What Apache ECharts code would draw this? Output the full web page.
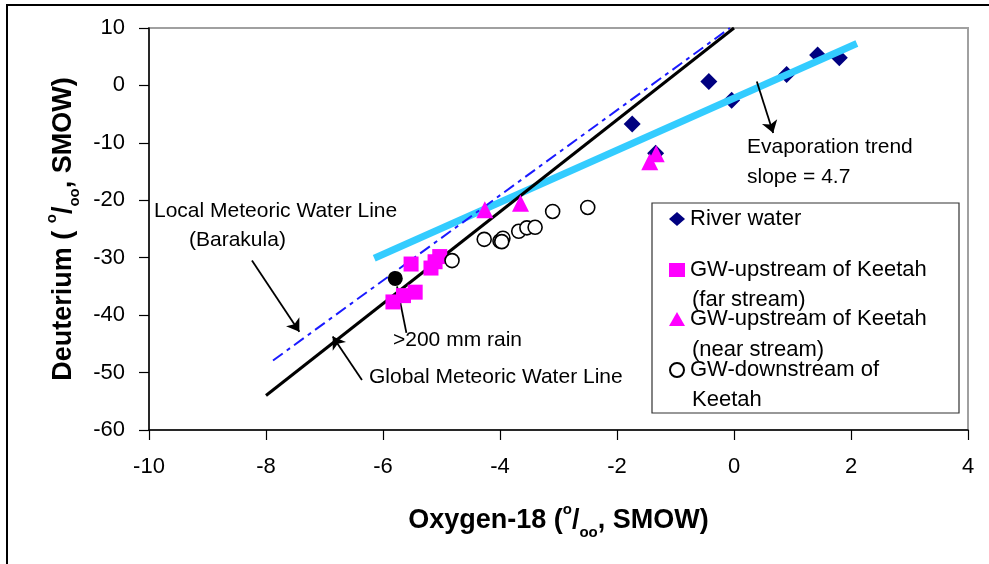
<!DOCTYPE html>
<html>
<head>
<meta charset="utf-8">
<title>Isotopes</title>
<script src="https://cdn.jsdelivr.net/npm/echarts@6/dist/echarts.min.js"></script>
<style>
  html, body { margin: 0; padding: 0; background: #fff; }
  #chart { width: 989px; height: 564px; }
</style>
</head>
<body>
<div id="chart"></div>
<script>
// river water samples
const riverX = [-1.74, -1.34, -0.43, -0.04, 0.9, 1.43, 1.8]
const riverY = [-6.7, -11.8, 0.7, -2.6, 1.9, 5.3, 4.8]
// GW upstream of Keetah, far stream
const farX = [-5.83, -5.65, -5.45, -5.52, -5.18, -5.11, -5.03]
const farY = [-37.7, -36.6, -36.0, -31.1, -31.8, -30.7, -29.8]
// GW upstream of Keetah, near stream
const nearX = [-4.26, -3.65, -1.44, -1.33]
const nearY = [-21.65, -20.5, -13.3, -11.9]
// GW downstream of Keetah
const downX = [-4.82, -4.27, -4.0, -3.95, -3.97, -3.68, -3.54, -3.40, -3.10, -2.50]
const downY = [-30.5, -26.8, -27.1, -26.6, -27.2, -25.4, -24.8, -24.7, -21.95, -21.25]
// >200 mm rain event
const rainX = [-5.79]
const rainY = [-33.6]
// reference lines (end points)
const gmwlX = [-8, 0]
const gmwlY = [-54, 10]
const lmwlX = [-7.88, -0.07]
const lmwlY = [-47.9, 10]
const evapX = [-6.15, 2.1]
const evapY = [-30.1, 7.3]

const xTicks = [-10, -8, -6, -4, -2, 0, 2, 4]
const yTicks = [-60, -50, -40, -30, -20, -10, 0, 10]

const FONT = '"Liberation Sans", Arial, sans-serif'

function zip(xs, ys) {
  return xs.map((x, i) => [x, ys[i]])
}

const chart = echarts.init(document.getElementById('chart'), null, { renderer: 'canvas' })

const titleRich = {
  b: { fontFamily: FONT, fontSize: 27, fontWeight: 'bold', color: '#000', lineHeight: 38 },
  sup: { fontFamily: FONT, fontSize: 15, fontWeight: 'bold', color: '#000', verticalAlign: 'top', lineHeight: 16 },
  sub: { fontFamily: FONT, fontSize: 15, fontWeight: 'bold', color: '#000', verticalAlign: 'bottom', lineHeight: 22 }
}

// one legend per entry so the rows keep the spacing of the original box
function legendRow(name, label, top) {
  return {
    data: [name],
    orient: 'vertical',
    left: 669,
    top: top,
    padding: 0,
    itemWidth: 16,
    itemHeight: 14,
    selectedMode: false,
    formatter: function() { return label },
    textStyle: { fontFamily: FONT, fontSize: 22, color: '#000' }
  }
}

const NAME_RIVER = 'River water'
const NAME_FAR = 'GW-upstream of Keetah (far stream)'
const NAME_NEAR = 'GW-upstream of Keetah (near stream)'
const NAME_DOWN = 'GW-downstream of Keetah'

const arrowLine = {
  silent: true,
  symbol: ['none', 'arrow'],
  symbolSize: 12,
  label: { show: false },
  lineStyle: { color: '#000', width: 1.8, type: 'solid' }
}

const option = {
  animation: false,
  backgroundColor: '#fff',
  grid: {
    left: 149,
    top: 28,
    width: 819,
    height: 402,
    show: true,
    borderColor: '#a0a0a0',
    borderWidth: 2,
    backgroundColor: 'transparent'
  },
  legend: [
    legendRow(NAME_RIVER, 'River water', 208),
    legendRow(NAME_FAR, 'GW-upstream of Keetah', 259),
    legendRow(NAME_NEAR, 'GW-upstream of Keetah', 308),
    legendRow(NAME_DOWN, 'GW-downstream of', 359)
  ],
  xAxis: {
    type: 'value',
    min: xTicks[0],
    max: xTicks[xTicks.length - 1],
    interval: 2,
    name: '{b|Oxygen-18 (}{sup|o}{b|/}{sub|oo}{b|, SMOW)}',
    nameLocation: 'middle',
    nameGap: 72,
    nameTextStyle: { rich: titleRich },
    axisLine: { onZero: false, lineStyle: { color: '#000', width: 1.5 } },
    axisTick: { inside: false, length: 10, lineStyle: { color: '#000', width: 1.2 } },
    axisLabel: { margin: 26, fontFamily: FONT, fontSize: 22, color: '#000' },
    splitLine: { show: false }
  },
  yAxis: {
    type: 'value',
    min: yTicks[0],
    max: yTicks[yTicks.length - 1],
    interval: 10,
    name: '{b|Deuterium ( }{sup|o}{b|/}{sub|oo}{b|, SMOW)}',
    nameLocation: 'middle',
    nameRotate: 90,
    nameGap: 64,
    nameTextStyle: { rich: titleRich },
    axisLine: { onZero: false, lineStyle: { color: '#000', width: 1.5 } },
    axisTick: { inside: false, length: 10, lineStyle: { color: '#000', width: 1.2 } },
    axisLabel: { margin: 24, fontFamily: FONT, fontSize: 22, color: '#000' },
    splitLine: { show: false }
  },
  series: [
    {
      name: NAME_RIVER,
      type: 'scatter',
      symbol: 'diamond',
      symbolSize: 17,
      itemStyle: { color: '#000080', opacity: 1 },
      data: zip(riverX, riverY),
      z: 2
    },
    {
      name: 'Evaporation trend',
      type: 'line',
      showSymbol: false,
      symbol: 'none',
      lineStyle: { color: '#33ccff', width: 7 },
      data: zip(evapX, evapY),
      z: 3,
      markLine: Object.assign({}, arrowLine, {
        data: [
          [{ coord: [0.39, 0.7] }, { coord: [0.67, -8.3] }]
        ]
      })
    },
    {
      name: 'Local Meteoric Water Line',
      type: 'line',
      showSymbol: false,
      symbol: 'none',
      lineStyle: { color: '#1a1aff', width: 2, type: [12, 5, 4, 5] },
      data: zip(lmwlX, lmwlY),
      z: 4,
      markLine: Object.assign({}, arrowLine, {
        data: [
          [{ coord: [-8.24, -30.5] }, { coord: [-7.43, -42.9] }]
        ]
      })
    },
    {
      name: 'Global Meteoric Water Line',
      type: 'line',
      showSymbol: false,
      symbol: 'none',
      lineStyle: { color: '#000', width: 3 },
      data: zip(gmwlX, gmwlY),
      z: 4,
      markLine: Object.assign({}, arrowLine, {
        data: [
          [{ coord: [-6.36, -51.3] }, { coord: [-6.86, -43.7] }],
          [{ coord: [-5.60, -43.1], symbol: 'none' }, { coord: [-5.76, -35.0], symbol: 'none' }]
        ]
      })
    },
    {
      name: NAME_FAR,
      type: 'scatter',
      symbol: 'rect',
      symbolSize: 15,
      itemStyle: { color: '#ff00ff', opacity: 1 },
      data: zip(farX, farY),
      z: 5
    },
    {
      name: NAME_NEAR,
      type: 'scatter',
      symbol: 'triangle',
      symbolSize: 17,
      itemStyle: { color: '#ff00ff', opacity: 1 },
      data: zip(nearX, nearY),
      z: 5
    },
    {
      name: NAME_DOWN,
      type: 'scatter',
      symbol: 'circle',
      symbolSize: 14,
      itemStyle: { color: '#fff', borderColor: '#000', borderWidth: 1.6, opacity: 1 },
      data: zip(downX, downY),
      z: 5
    },
    {
      name: '>200 mm rain',
      type: 'scatter',
      symbol: 'circle',
      symbolSize: 15,
      itemStyle: { color: '#000', opacity: 1 },
      data: zip(rainX, rainY),
      z: 6
    }
  ],
  graphic: [
    // outer frame of the figure
    {
      type: 'rect',
      shape: { x: 7, y: 5, width: 1000, height: 600 },
      style: { fill: 'none', stroke: '#000', lineWidth: 2 },
      silent: true
    },
    // legend box
    {
      type: 'rect',
      shape: { x: 652, y: 203, width: 307, height: 210 },
      style: { fill: 'none', stroke: '#333', lineWidth: 1.2 },
      silent: true
    },
    { type: 'text', x: 692, y: 300, style: { text: '(far stream)', font: '22px ' + FONT, fill: '#000', verticalAlign: 'middle', textVerticalAlign: 'middle' } },
    { type: 'text', x: 692, y: 350, style: { text: '(near stream)', font: '22px ' + FONT, fill: '#000', verticalAlign: 'middle', textVerticalAlign: 'middle' } },
    { type: 'text', x: 692, y: 400, style: { text: 'Keetah', font: '22px ' + FONT, fill: '#000', verticalAlign: 'middle', textVerticalAlign: 'middle' } },
    // annotations
    { type: 'text', x: 154, y: 211, style: { text: 'Local Meteoric Water Line', font: '21px ' + FONT, fill: '#000', verticalAlign: 'middle', textVerticalAlign: 'middle' } },
    { type: 'text', x: 189, y: 240, style: { text: '(Barakula)', font: '21px ' + FONT, fill: '#000', verticalAlign: 'middle', textVerticalAlign: 'middle' } },
    { type: 'text', x: 369, y: 377, style: { text: 'Global Meteoric Water Line', font: '21px ' + FONT, fill: '#000', verticalAlign: 'middle', textVerticalAlign: 'middle' } },
    { type: 'text', x: 393, y: 340, style: { text: '>200 mm rain', font: '21px ' + FONT, fill: '#000', verticalAlign: 'middle', textVerticalAlign: 'middle' } },
    { type: 'text', x: 747, y: 147, style: { text: 'Evaporation trend', font: '21px ' + FONT, fill: '#000', verticalAlign: 'middle', textVerticalAlign: 'middle' } },
    { type: 'text', x: 747, y: 177, style: { text: 'slope = 4.7', font: '21px ' + FONT, fill: '#000', verticalAlign: 'middle', textVerticalAlign: 'middle' } }
  ]
}

chart.setOption(option)
</script>
</body>
</html>
